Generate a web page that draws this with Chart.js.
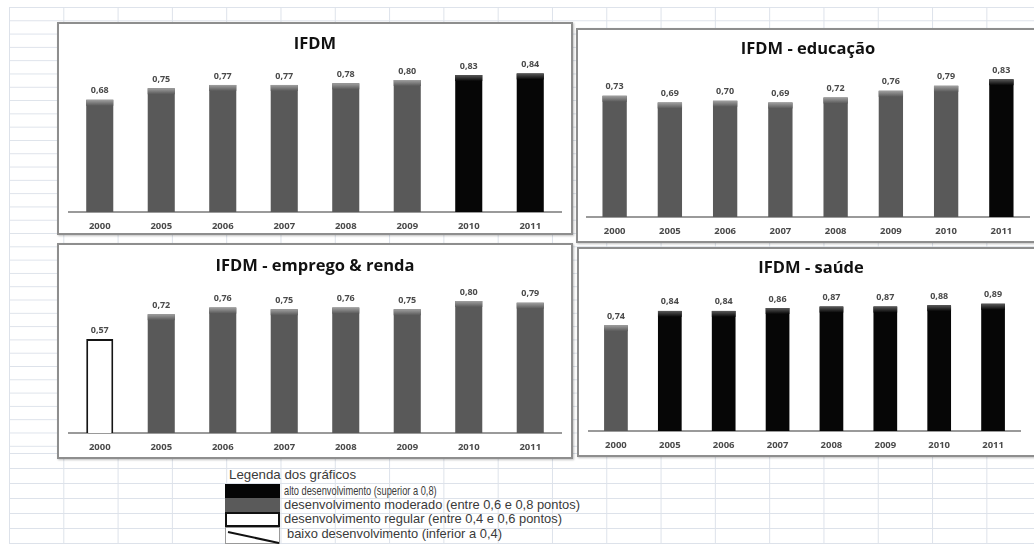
<!DOCTYPE html>
<html lang="pt-BR">
<head>
<meta charset="utf-8">
<title>IFDM</title>
<script src="https://cdn.jsdelivr.net/npm/chart.js@4.4.1/dist/chart.umd.min.js"></script>
<style>
html, body { margin: 0; padding: 0; background: #fff; }
body { width: 1034px; height: 544px; position: relative; overflow: hidden; font-family: "Liberation Sans", Arial, sans-serif; }
.grade { position: absolute; left: 9px; right: 0;
  background-image: linear-gradient(to right, #dde2ea 1px, transparent 1px), linear-gradient(to bottom, #dde2ea 1px, transparent 1px); }
.grade.cima { top: 7px; height: 446px; background-size: 54.3px 100%, 100% 13.3px; }
.grade.baixo { top: 453px; height: 91px; background-size: 54.3px 100%, 100% 15px; }
.painel { position: absolute; box-sizing: border-box; background: #fff; border: 2px solid #8e8e8e; box-shadow: 1px 1px 2px rgba(0,0,0,0.25); }
.titulo { position: absolute; transform: translate(-50%, -50%); white-space: nowrap; font-family: "Open Sans", sans-serif; font-weight: bold; font-size: 16.5px; color: #111; }
canvas { position: absolute; }
.leg { position: absolute; white-space: nowrap; font-size: 12.9px; color: #3a3a3a; line-height: 14px; transform-origin: left center; }
.amostra { position: absolute; left: 225px; width: 55px; box-sizing: border-box; }
</style>
</head>
<body>
<div class="grade cima"></div>
<div class="grade baixo"></div>

<div class="painel" style="left:57px;top:22px;width:516px;height:213px"></div>
<div class="painel" style="left:576px;top:28px;width:464px;height:215px"></div>
<div class="painel" style="left:57px;top:243px;width:516px;height:216px"></div>
<div class="painel" style="left:577px;top:247px;width:468px;height:210px"></div>

<canvas id="g-ifdm"></canvas>
<canvas id="g-educacao"></canvas>
<canvas id="g-emprego"></canvas>
<canvas id="g-saude"></canvas>

<div class="titulo" style="left:315px;top:42px">IFDM</div>
<div class="titulo" style="left:808px;top:47px">IFDM - educação</div>
<div class="titulo" style="left:315px;top:264px">IFDM - emprego &amp; renda</div>
<div class="titulo" style="left:811px;top:266px">IFDM - saúde</div>

<!-- legenda dos gráficos -->
<div class="leg" style="left:229px;top:468px;font-size:13.3px">Legenda dos gráficos</div>
<div class="amostra" style="top:484px;height:14px;background:#050505"></div>
<div class="amostra" style="top:498px;height:14px;background:#5a5a5a"></div>
<div class="amostra" style="top:512px;height:15px;background:#fff;border:2px solid #111"></div>
<div class="amostra" style="top:527px;height:17px;background:#fff;border:1px solid #999">
  <svg width="53" height="17" style="position:absolute;left:0;top:0"><line x1="2" y1="4" x2="53" y2="15" stroke="#111" stroke-width="2"/></svg>
</div>
<div class="leg" style="left:284px;top:484px;transform:scaleX(0.72)">alto desenvolvimento (superior a 0,8)</div>
<div class="leg" style="left:284px;top:498px">desenvolvimento moderado (entre 0,6 e 0,8 pontos)</div>
<div class="leg" style="left:284px;top:512px">desenvolvimento regular (entre 0,4 e 0,6 pontos)</div>
<div class="leg" style="left:287px;top:527px">baixo desenvolvimento (inferior a 0,4)</div>

<script>
// Dados
const anos = ['2000', '2005', '2006', '2007', '2008', '2009', '2010', '2011'];
const ifdm = [0.68, 0.75, 0.77, 0.77, 0.78, 0.80, 0.83, 0.84];
const educacao = [0.73, 0.69, 0.70, 0.69, 0.72, 0.76, 0.79, 0.83];
const emprego = [0.57, 0.72, 0.76, 0.75, 0.76, 0.75, 0.80, 0.79];
const saude = [0.74, 0.84, 0.84, 0.86, 0.87, 0.87, 0.88, 0.89];

// cor da barra segundo a faixa de desenvolvimento
function corBarra(v) {
    if (v > 0.8) return '#060606';
    if (v >= 0.6) return '#595959';
    return '#ffffff';
}

// rótulos de valor (0,68 ...) e o brilho no topo das barras
const rotulosPlugin = {
    id: 'rotulos',
    afterDatasetsDraw(chart) {
        const ctx = chart.ctx;
        const valores = chart.data.datasets[0].data;
        chart.getDatasetMeta(0).data.forEach((barra, i) => {
            const v = valores[i];
            const w = barra.width;
            ctx.save();
            if (v >= 0.6) {
                const g = ctx.createLinearGradient(0, barra.y, 0, barra.y + 6);
                g.addColorStop(0, v > 0.8 ? '#5a5a5a' : '#a0a0a0');
                g.addColorStop(1, corBarra(v));
                ctx.fillStyle = g;
                ctx.fillRect(barra.x - w / 2, barra.y, w, 6);
            }
            ctx.fillStyle = '#4a4a4a';
            ctx.font = 'bold 9px "Open Sans"';
            ctx.textAlign = 'center';
            ctx.textBaseline = 'middle';
            ctx.fillText(v.toFixed(2).replace('.', ','), barra.x, barra.y - 9);
            ctx.restore();
        });
    }
};

function criarGrafico(id, valores, caixa) {
    const cv = document.getElementById(id);
    cv.width = caixa.w;
    cv.height = caixa.h;
    cv.style.left = caixa.x + 'px';
    cv.style.top = caixa.y + 'px';

    return new Chart(cv.getContext('2d'), {
        type: 'bar',
        data: {
            labels: anos,
            datasets: [{
                data: valores,
                backgroundColor: ctx => corBarra(valores[ctx.dataIndex]),
                borderColor: '#151515',
                borderWidth: ctx => valores[ctx.dataIndex] < 0.6 ? 2 : 0,
                barPercentage: 0.44,
                categoryPercentage: 1
            }]
        },
        options: {
            responsive: false,
            animation: false,
            devicePixelRatio: 1,
            layout: { padding: { left: caixa.pl, right: caixa.pr, top: caixa.pt, bottom: 0 } },
            plugins: { legend: { display: false }, tooltip: { enabled: false } },
            scales: {
                x: {
                    grid: { display: false, drawTicks: false },
                    border: { display: true, color: '#9a9a9a', width: 2 },
                    ticks: { color: '#4a4a4a', padding: 9, font: { family: 'Open Sans', size: 9.5, weight: 'bold' } },
                    afterFit: s => { s.height = 24; }
                },
                y: { display: false, min: 0, max: 1 }
            }
        },
        plugins: [rotulosPlugin]
    });
}

criarGrafico('g-ifdm', ifdm, { x: 57, y: 22, w: 516, h: 214, pl: 12, pr: 12, pt: 25 });
criarGrafico('g-educacao', educacao, { x: 576, y: 28, w: 464, h: 213, pl: 11, pr: 11, pt: 23 });
criarGrafico('g-emprego', emprego, { x: 57, y: 243, w: 516, h: 214, pl: 12, pr: 12, pt: 25 });
criarGrafico('g-saude', saude, { x: 577, y: 247, w: 468, h: 208, pl: 12, pr: 25, pt: 41 });
</script>
</body>
</html>
